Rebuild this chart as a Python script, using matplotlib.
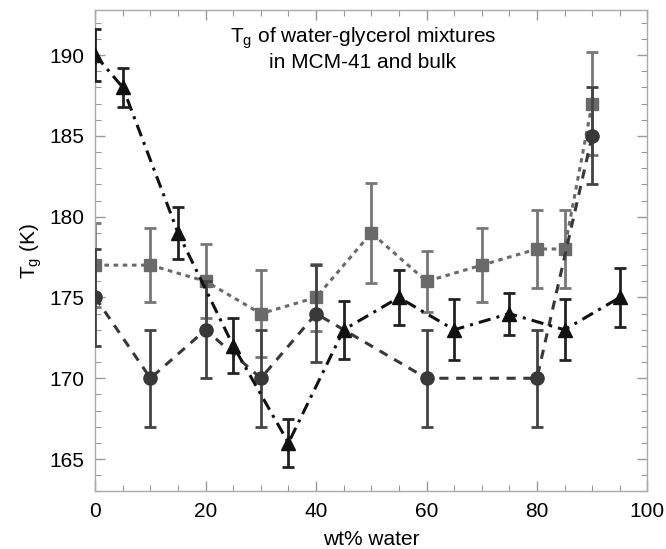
import matplotlib
matplotlib.use("Agg")
import matplotlib.pyplot as plt
from matplotlib.ticker import MultipleLocator

plt.rcParams['font.family'] = ['Liberation Sans', 'DejaVu Sans']

# Squares (gray, dotted)
sq_x = [0, 10, 20, 30, 40, 50, 60, 70, 80, 85, 90]
sq_y = [177, 177, 176, 174, 175, 179, 176, 177, 178, 178, 187]
sq_e = [2.6, 2.3, 2.3, 2.7, 2.1, 3.1, 1.9, 2.3, 2.4, 2.4, 3.2]

# Circles (dark gray, dashed)
ci_x = [0, 10, 20, 30, 40, 60, 80, 90]
ci_y = [175, 170, 173, 170, 174, 170, 170, 185]
ci_e = [3, 3, 3, 3, 3, 3, 3, 3]

# Triangles (black, dash-dot)
tr_x = [0, 5, 15, 25, 35, 45, 55, 65, 75, 85, 95]
tr_y = [190, 188, 179, 172, 166, 173, 175, 173, 174, 173, 175]
tr_e = [1.6, 1.2, 1.6, 1.7, 1.5, 1.8, 1.7, 1.9, 1.3, 1.9, 1.8]

fig = plt.figure(figsize=(6.66, 5.49), dpi=100)
ax = fig.add_axes([0.143, 0.105, 0.829, 0.877])

ax.errorbar(sq_x, sq_y, yerr=sq_e, color='#6a6a6a', ecolor='#777777', marker='s',
            markersize=9, linestyle=(0, (1.5, 1.5)), linewidth=2.2, elinewidth=2,
            capsize=4, capthick=2, zorder=2)
ax.errorbar(ci_x, ci_y, yerr=ci_e, color='#383838', ecolor='#444444', marker='o',
            markersize=9.5, linestyle=(0, (3, 2.5)), linewidth=2.2, elinewidth=2,
            capsize=4, capthick=2, zorder=3)
ax.errorbar(tr_x, tr_y, yerr=tr_e, color='#111111', ecolor='#222222', marker='^',
            markersize=10, linestyle=(0, (4, 2, 1, 2)), linewidth=2.2, elinewidth=2,
            capsize=4, capthick=2, zorder=4)

ax.set_xlim(0, 100)
ax.set_ylim(163, 192.8)
ax.xaxis.set_major_locator(MultipleLocator(20))
ax.xaxis.set_minor_locator(MultipleLocator(5))
ax.yaxis.set_major_locator(MultipleLocator(5))
ax.yaxis.set_minor_locator(MultipleLocator(1))
ax.tick_params(which='both', direction='in', top=True, right=True, color='#999999',
               labelsize=15, pad=8)
ax.tick_params(which='major', length=7, width=1)
ax.tick_params(which='minor', length=4, width=0.8)
for s in ax.spines.values():
    s.set_color('#aaaaaa')
    s.set_linewidth(1)

ax.set_xlabel('wt% water', fontsize=15, labelpad=6)
ax.set_ylabel('T$_\\mathregular{g}$ (K)', fontsize=15, labelpad=4)
ax.text(0.485, 0.92, 'T$_\\mathregular{g}$ of water-glycerol mixtures\nin MCM-41 and bulk',
        transform=ax.transAxes, ha='center', va='center', fontsize=15,
        linespacing=1.1, multialignment='center')

fig.savefig('out.png', dpi=100)
